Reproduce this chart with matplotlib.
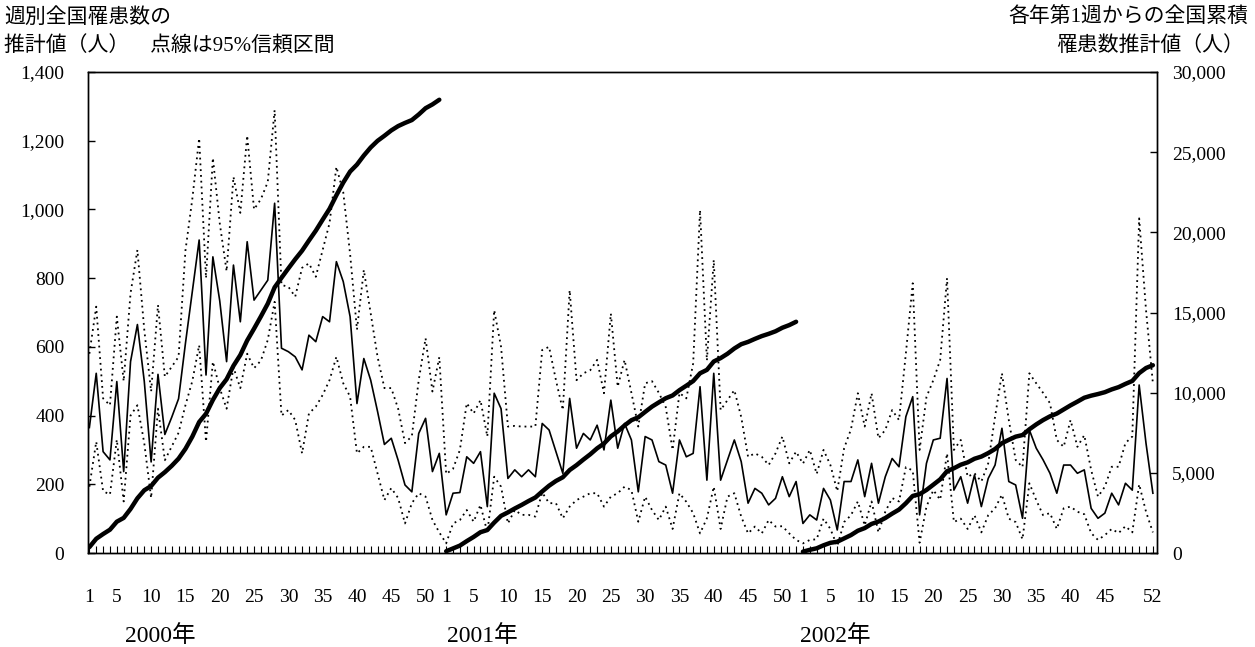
import numpy as np
import matplotlib
matplotlib.use("Agg")
import matplotlib.pyplot as plt
from matplotlib.ticker import FuncFormatter, FixedLocator

# ---- data (weekly estimated patients, with 95% CI) ----
years = ["2000年", "2001年", "2002年"]
w2000 = [365, 523, 295, 271, 499, 237, 557, 665, 500, 265, 520, 345, 395, 449, 610, 760, 911, 518, 862, 734,
         557, 838, 673, 906, 736, 765, 794, 1018, 596, 586, 571, 533, 634, 615, 688, 673, 848, 790, 688, 435,
         566, 503, 412, 316, 334, 270, 198, 178, 348, 392, 237, 290]
up2000 = [580, 717, 450, 430, 688, 500, 756, 882, 650, 470, 722, 513, 542, 571, 880, 1030, 1207, 800, 1150, 960,
          820, 1095, 990, 1215, 1000, 1030, 1080, 1289, 780, 775, 746, 830, 843, 804, 882, 960, 1124, 1050, 870, 650,
          824, 697, 571, 480, 480, 420, 320, 340, 503, 625, 470, 570]
lo2000 = [193, 324, 180, 170, 330, 150, 400, 430, 320, 160, 420, 270, 310, 350, 430, 500, 605, 324, 557, 480,
          420, 540, 480, 580, 538, 560, 620, 731, 400, 416, 387, 290, 406, 426, 460, 503, 571, 494, 455, 290,
          309, 309, 232, 154, 189, 160, 86, 145, 174, 164, 96, 60]
w2001 = [111, 174, 176, 280, 261, 295, 135, 465, 420, 217, 242, 222, 242, 222, 377, 358, 295, 232, 450, 305,
         348, 329, 372, 300, 445, 305, 377, 329, 178, 339, 329, 266, 256, 174, 329, 280, 290, 484, 212, 523,
         212, 271, 329, 266, 145, 188, 174, 140, 159, 222, 164, 208]
up2001 = [230, 245, 300, 436, 406, 445, 339, 707, 600, 368, 370, 368, 368, 368, 591, 600, 503, 416, 765, 503,
          523, 532, 562, 465, 697, 484, 562, 466, 368, 494, 500, 466, 425, 300, 466, 450, 552, 998, 560, 853,
          416, 445, 474, 396, 280, 290, 280, 256, 290, 339, 261, 295]
lo2001 = [28, 86, 96, 125, 91, 140, 60, 222, 193, 86, 125, 111, 111, 106, 176, 145, 145, 101, 135, 154,
          164, 174, 174, 135, 164, 174, 193, 183, 91, 164, 125, 96, 135, 70, 174, 149, 116, 57, 101, 193,
          70, 164, 174, 106, 57, 77, 57, 96, 77, 78, 57, 38]
w2002 = [86, 111, 96, 188, 154, 67, 208, 208, 271, 164, 261, 145, 222, 275, 251, 397, 455, 111, 261, 329,
         334, 508, 183, 222, 145, 227, 135, 217, 256, 363, 208, 198, 101, 358, 305, 271, 232, 174, 256, 256,
         232, 242, 130, 101, 116, 174, 140, 203, 183, 489, 319, 174]
up2002 = [260, 300, 230, 300, 256, 180, 305, 360, 465, 368, 465, 334, 358, 416, 387, 581, 785, 300, 454, 503,
          562, 800, 300, 329, 222, 232, 208, 261, 397, 523, 387, 271, 250, 523, 494, 466, 436, 329, 309, 387,
          309, 343, 242, 164, 193, 251, 251, 320, 339, 974, 707, 494]
lo2002 = [28, 38, 40, 100, 70, 20, 90, 110, 150, 80, 150, 60, 120, 160, 150, 250, 240, 30, 135, 183,
          155, 290, 90, 100, 70, 110, 60, 110, 130, 170, 100, 90, 40, 203, 154, 110, 116, 70, 130, 135,
          120, 113, 58, 38, 52, 70, 58, 78, 60, 200, 120, 60]
# week numbers printed under the axis for each year
tick_weeks = [[1, 5, 10, 15, 20, 25, 30, 35, 40, 45, 50],
              [1, 5, 10, 15, 20, 25, 30, 35, 40, 45, 50],
              [1, 5, 10, 15, 20, 25, 30, 35, 40, 45, 52]]

weekly = [w2000, w2001, w2002]
upper = [up2000, up2001, up2002]
lower = [lo2000, lo2001, lo2002]

SERIF = "Liberation Serif"
JP = [SERIF, "Noto Sans CJK JP", "DejaVu Sans"]

W, H = 1255, 647
fig = plt.figure(figsize=(W / 100, H / 100), dpi=100)
ax = fig.add_axes([88 / W, 1 - 553 / H, (1157 - 88) / W, (553 - 72) / H])
ax2 = ax.twinx()

n = 52
x_all = np.arange(3 * n)
w_all = np.concatenate(weekly)
u_all = np.concatenate(upper)
l_all = np.concatenate(lower)

dot = (0, (1.0, 2.2))
ax.plot(x_all, u_all, color="black", lw=1.3, ls=dot)
ax.plot(x_all, l_all, color="black", lw=1.3, ls=dot)
ax.plot(x_all, w_all, color="black", lw=1.2)

for k, w in enumerate(weekly):
    xs = np.arange(n) + k * n
    ax2.plot(xs, np.cumsum(w), color="black", lw=3.2, solid_capstyle="round")

ax.set_xlim(-0.2, 155.6)
ax.set_ylim(0, 1400)
ax2.set_ylim(0, 30000)

# y axes
ax.set_yticks(np.arange(0, 1401, 200))
ax.yaxis.set_major_formatter(FuncFormatter(lambda v, p: f"{int(v):,}"))
ax2.set_yticks(np.arange(0, 30001, 5000))
ax2.yaxis.set_major_formatter(FuncFormatter(lambda v, p: f"{int(v):,}"))
ax.tick_params(axis="y", direction="in", length=5, width=1, pad=17, labelsize=14)
ax2.tick_params(axis="y", direction="in", length=5, width=1, pad=11, labelsize=14)
for lab in ax.get_yticklabels() + ax2.get_yticklabels():
    lab.set_fontfamily(SERIF)

# x axis: a tick every week, labels at selected weeks
ax.xaxis.set_major_locator(FixedLocator(x_all))
labels = []
for k in range(3):
    for wk in range(1, n + 1):
        labels.append(str(wk) if wk in tick_weeks[k] else "")
ax.set_xticklabels(labels)
ax.tick_params(axis="x", direction="in", length=5, width=0.8, pad=26, labelsize=14)
for lab in ax.get_xticklabels():
    lab.set_fontfamily(SERIF)

for sp in ["top", "bottom", "left", "right"]:
    ax.spines[sp].set_linewidth(1.0)
    ax2.spines[sp].set_linewidth(1.0)

# year labels
year_left_px = [125, 447, 800]
for px, yl in zip(year_left_px, years):
    fig.text(px / W, 1 - 636 / H, yl, ha="left", va="center", fontsize=17, family=JP)

# axis titles
fig.text(4 / W, 1 - 18 / H, "週別全国罹患数の", ha="left", va="center", fontsize=15, family=JP)
fig.text(4 / W, 1 - 46 / H, "推計値（人）　点線は95%信頼区間", ha="left", va="center", fontsize=15, family=JP)
fig.text(1248 / W, 1 - 18 / H, "各年第1週からの全国累積", ha="right", va="center", fontsize=15, family=JP)
fig.text(1244 / W, 1 - 46 / H, "罹患数推計値（人）", ha="right", va="center", fontsize=15, family=JP)

fig.savefig("out.png", dpi=100)
